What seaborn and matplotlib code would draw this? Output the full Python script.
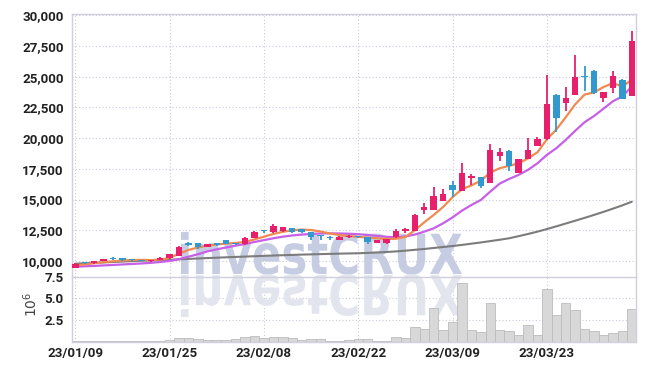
import numpy as np
import pandas as pd
import matplotlib
matplotlib.use("Agg")
import matplotlib.pyplot as plt
import seaborn as sns
from matplotlib import font_manager as fm
from matplotlib.textpath import TextPath
from matplotlib.patches import PathPatch
from matplotlib.font_manager import FontProperties
from matplotlib.transforms import Affine2D, IdentityTransform

# ---------------- data ----------------
dates = ["23/01/09", "23/01/10", "23/01/11", "23/01/12", "23/01/13", "23/01/16", "23/01/17", "23/01/18",
         "23/01/19", "23/01/20", "23/01/25", "23/01/26", "23/01/27", "23/01/30", "23/01/31", "23/02/01",
         "23/02/02", "23/02/03", "23/02/06", "23/02/07", "23/02/08", "23/02/09", "23/02/10", "23/02/13",
         "23/02/14", "23/02/15", "23/02/16", "23/02/17", "23/02/20", "23/02/21", "23/02/22", "23/02/23",
         "23/02/24", "23/02/27", "23/02/28", "23/03/02", "23/03/03", "23/03/06", "23/03/07", "23/03/08",
         "23/03/09", "23/03/10", "23/03/13", "23/03/14", "23/03/15", "23/03/16", "23/03/17", "23/03/20",
         "23/03/21", "23/03/22", "23/03/23", "23/03/24", "23/03/27", "23/03/28", "23/03/29", "23/03/30",
         "23/03/31", "23/04/03", "23/04/04", "23/04/05"]

open_ = [9450, 9900, 9800, 10000, 10200, 10220, 10100, 10020, 9960, 10080,
         10220, 10430, 11480, 11440, 11150, 11440, 11700, 11440, 11370, 11900,
         12520, 12340, 12470, 12660, 12580, 12340, 12080, 11920, 11740, 11960,
         11960, 11930, 11490, 11440, 11930, 12480, 12450, 14160, 14160, 14890,
         16190, 15730, 16760, 16820, 16380, 18560, 18990, 17200, 18340, 19370,
         19920, 23530, 22850, 23530, 25000, 25480, 23260, 24080, 24700, 23470]
close = [9750, 9800, 10000, 10150, 10130, 10060, 10050, 10000, 10060, 10270,
         10550, 11170, 11300, 11100, 11390, 11290, 11400, 11400, 11870, 12390,
         12430, 12850, 12750, 12340, 12320, 11960, 12040, 11890, 11980, 12060,
         11930, 11580, 11710, 11790, 12470, 12580, 13750, 14430, 15300, 15460,
         15800, 17200, 16880, 16110, 19050, 18860, 17770, 18290, 19050, 19940,
         22800, 21680, 23260, 24970, 24970, 23660, 23720, 25080, 23210, 27880]
high = [9800, 9950, 10030, 10180, 10300, 10240, 10150, 10060, 10090, 10300,
        10580, 11200, 11550, 11460, 11420, 11460, 11720, 11500, 11920, 12420,
        12560, 13000, 12780, 12700, 12600, 12380, 12100, 12050, 12000, 12150,
        12000, 11960, 11730, 11820, 12620, 12650, 13830, 14760, 16000, 15900,
        16500, 17960, 17070, 16850, 19540, 19230, 19050, 18330, 20000, 20100,
        25160, 23600, 24160, 26790, 25840, 25520, 23760, 25430, 24780, 28740]
low = [9420, 9780, 9780, 9990, 10100, 10040, 9980, 9960, 9940, 10060,
       10200, 10400, 11200, 10980, 11100, 11260, 11380, 11300, 11340, 11880,
       12250, 12300, 12400, 12300, 12280, 11750, 11750, 11700, 11700, 11900,
       11850, 11420, 11470, 11400, 11900, 12250, 12420, 13800, 14120, 14850,
       15250, 15700, 16190, 15950, 16330, 18150, 17330, 17150, 18300, 19330,
       19880, 20540, 22170, 23480, 23800, 23600, 22980, 23670, 23150, 23420]
volume_m = [0.08, 0.06, 0.07, 0.05, 0.06, 0.05, 0.06, 0.04, 0.05, 0.10,
            0.20, 0.40, 0.40, 0.25, 0.20, 0.12, 0.15, 0.25, 0.54, 0.66,
            0.43, 0.54, 0.54, 0.40, 0.20, 0.30, 0.30, 0.10, 0.10, 0.20,
            0.30, 0.30, 0.10, 0.10, 0.54, 0.43, 1.67, 1.47, 3.90, 1.36,
            2.20, 6.80, 1.28, 1.05, 4.50, 1.36, 1.24, 0.80, 1.86, 0.80,
            6.10, 3.10, 4.40, 3.70, 1.47, 1.16, 0.70, 0.93, 1.24, 3.80]
ma_short = [9650, 9720, 9820, 9900, 9980, 10040, 10080, 10090, 10070, 10110,
            10250, 10600, 10900, 11100, 11250, 11350, 11420, 11470, 11550, 11760,
            11980, 12200, 12380, 12500, 12560, 12520, 12400, 12240, 12110, 12020,
            11970, 11900, 11850, 11790, 11810, 11960, 12500, 13150, 13750, 14400,
            15200, 15850, 16150, 16550, 17200, 17550, 17750, 17950, 18350, 18850,
            19900, 20700, 21700, 22750, 23550, 23720, 24160, 24480, 24210, 24750]
ma_mid = [9540, 9570, 9600, 9640, 9680, 9720, 9760, 9800, 9850, 9920,
          10000, 10150, 10350, 10550, 10780, 10950, 11100, 11250, 11380, 11550,
          11700, 11850, 11980, 12080, 12150, 12200, 12240, 12250, 12240, 12220,
          12180, 12120, 12040, 11970, 11930, 12000, 12150, 12390, 12660, 13070,
          13550, 14100, 14560, 14970, 15650, 16300, 16680, 17010, 17420, 17950,
          18640, 19180, 19860, 20600, 21300, 21800, 22400, 23000, 23400, 24200]
ma_long = [9780, 9815, 9850, 9885, 9920, 9955, 9990, 10020, 10050, 10075,
           10100, 10135, 10170, 10205, 10240, 10270, 10300, 10330, 10360, 10390,
           10420, 10445, 10470, 10495, 10520, 10540, 10560, 10580, 10600, 10615,
           10630, 10660, 10690, 10730, 10780, 10840, 10910, 10980, 11060, 11140,
           11220, 11310, 11410, 11510, 11620, 11730, 11850, 12020, 12200, 12390,
           12600, 12820, 13050, 13280, 13510, 13750, 14000, 14260, 14530, 14820]
price_ticks = [10000, 12500, 15000, 17500, 20000, 22500, 25000, 27500, 30000]
volume_ticks = [2.5, 5.0, 7.5]
watermark = "investCRUX"

# ---------------- style ----------------
UP = "#e8206b"
DOWN = "#3399cc"
C_SHORT = "#f08a50"
C_MID = "#c660e8"
C_LONG = "#7c7c7c"
GRID = "#c9cbdc"
SPINE = "#cfd0dc"
TXT = "#222222"

sns.set_theme(style="white")

# choose a bold, fairly narrow font for the tick labels
ttf = fm.fontManager.ttflist
names = {f.name for f in ttf}


def has_bold(name):
    for f in ttf:
        if f.name == name:
            w = f.weight
            if isinstance(w, str):
                if w in ("bold", "heavy", "black", "extra bold", "semibold", "demibold"):
                    return True
            elif w >= 600:
                return True
    return False


if "Liberation Sans Narrow" in names:
    tick_font = dict(family="Liberation Sans Narrow", size=10.5, weight="bold")
elif has_bold("Roboto"):
    tick_font = dict(family="Roboto", size=9.6, weight="bold")
elif has_bold("Lato"):
    tick_font = dict(family="Lato", size=9.6, weight="bold")
else:
    tick_font = dict(family="Liberation Sans", size=9.4, weight="bold")
plt.rcParams["font.family"] = [tick_font["family"], "DejaVu Sans"]

W, H = 645, 370
fig = plt.figure(figsize=(W / 100, H / 100), dpi=100)
fig.patch.set_facecolor("white")


def rect(l, t, r, b):
    return [l / W, 1 - b / H, (r - l) / W, (b - t) / H]


ax = fig.add_axes(rect(72, 13.5, 636, 276.7))
axv = fig.add_axes(rect(72, 276.7, 636, 341.5), sharex=ax)
for a in (ax, axv):
    a.set_facecolor("none")

df = pd.DataFrame({"idx": np.arange(len(dates)), "date": dates, "open": open_, "high": high,
                   "low": low, "close": close, "vol": volume_m,
                   "ma_short": ma_short, "ma_mid": ma_mid, "ma_long": ma_long})
up = df["close"] >= df["open"]
colors = np.where(up, UP, DOWN)

# watermark (with faded mirror image below)
fp = FontProperties(family="DejaVu Sans", weight="bold")
tp = TextPath((0, 0), watermark, size=1, prop=fp)
ext = tp.get_extents()
cap = TextPath((0, 0), "C", size=1, prop=fp).get_extents().y1
sx = 281 / ext.width
sy = 41 / cap
base = H - 274
t_main = Affine2D().translate(-ext.x0, 0).scale(sx, sy).translate(181, base)
t_refl = Affine2D().translate(-ext.x0, 0).scale(sx, -sy).translate(181, base - 1)
pm = PathPatch(t_main.transform_path(tp), facecolor="#c6cde2", edgecolor="none",
               transform=IdentityTransform(), zorder=1, clip_on=False)
pr = PathPatch(t_refl.transform_path(tp), facecolor="#e2e5ee", edgecolor="none",
               transform=IdentityTransform(), zorder=0.8, clip_on=False)
ax.add_artist(pm)
axv.add_artist(pr)

# moving averages
sns.lineplot(data=df, x="idx", y="ma_long", ax=ax, color=C_LONG, linewidth=1.5, zorder=2)
sns.lineplot(data=df, x="idx", y="ma_mid", ax=ax, color=C_MID, linewidth=1.6, zorder=2.2)
sns.lineplot(data=df, x="idx", y="ma_short", ax=ax, color=C_SHORT, linewidth=1.6, zorder=2.4)

# candles
ax.vlines(df["idx"], df["low"], df["high"], colors=colors, linewidth=1.3, zorder=3)
body_bottom = np.minimum(df["open"], df["close"])
body_h = np.maximum(np.abs(df["close"] - df["open"]), 90)
ax.bar(df["idx"], body_h, bottom=body_bottom, width=0.68, color=colors, linewidth=0, zorder=4)

# volume
sns.barplot(data=df, x="idx", y="vol", ax=axv, native_scale=True, width=1.0,
            color="#d8d8d8", edgecolor="#bcbcbc", linewidth=0.6, saturation=1, zorder=2)

# axes cosmetics
ax.set_xlim(-0.35, 59.45)
ax.set_ylim(8722, 30147)
axv.set_ylim(0, 7.5)

tick_pos = list(range(0, len(dates), 10))
ax.set_xticks(tick_pos)
axv.set_xticks(tick_pos)
axv.set_xticklabels([dates[i] for i in tick_pos])
ax.tick_params(labelbottom=False)
ax.set_yticks(price_ticks)
ax.set_yticklabels([f"{v:,}" for v in price_ticks])
axv.set_yticks(volume_ticks)
axv.set_yticklabels([f"{v:.1f}" for v in volume_ticks])

for a in (ax, axv):
    a.set_xlabel("")
    a.set_ylabel("")
    a.grid(True, color=GRID, linestyle=(0, (1, 2)), linewidth=0.8, zorder=0.5)
    a.set_axisbelow(True)
    a.tick_params(length=0, pad=6, labelcolor=TXT)
    for lab in a.get_xticklabels() + a.get_yticklabels():
        lab.set_fontfamily(tick_font["family"])
        lab.set_fontsize(tick_font["size"])
        lab.set_fontweight(tick_font["weight"])
    for s in a.spines.values():
        s.set_color(SPINE)
        s.set_linewidth(1.0)
ax.spines["bottom"].set_visible(False)
axv.tick_params(axis="x", pad=4)

fig.text(31 / W, 1 - 304 / H, r"$10^{6}$", rotation=90, ha="center", va="center",
         fontsize=10, color="#444444", family="DejaVu Sans")

fig.savefig("out.png", dpi=100, facecolor="white")
